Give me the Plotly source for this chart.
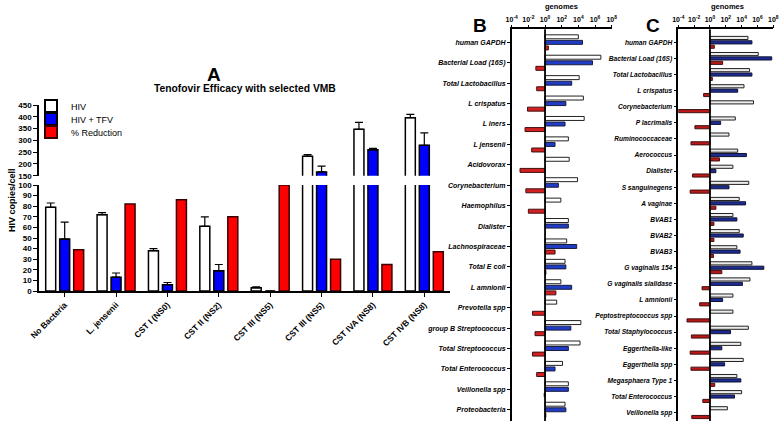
import plotly.graph_objects as go

W, H = 782, 424
FONT = "Arial, Liberation Sans, sans-serif"

# ---------------- Panel A data ----------------
categories_A = ["No Bacteria", "L. jensenii", "CST I (NS0)", "CST II (NS2)",
                "CST III (NS5)", "CST III (NS5)", "CST IVA (NS8)", "CST IVB (NS8)"]
hiv = [79, 72, 38, 61, 3, 233, 347, 396]
hiv_err = [4, 2, 2, 9, 1, 7, 29, 14]
hiv_tfv = [49, 13, 6, 19, 0, 166, 260, 279]
hiv_tfv_err = [16, 4, 2, 6, 0, 25, 6, 53]
reduction = [39, 82, 86, 70, 100, 30, 25, 37]
lower_ticks = list(range(0, 101, 10))
upper_ticks = list(range(150, 451, 50))

# ---------------- Panel B data (log10 genomes) ----------------
categories_B = ["human GAPDH", "Bacterial Load (16S)", "Total Lactobacillus", "L crispatus",
                "L iners", "L jensenii", "Acidovorax", "Corynebacterium", "Haemophilus",
                "Dialister", "Lachnospiraceae", "Total E coli", "L amnionii", "Prevotella spp",
                "group B Streptococcus", "Total Streptococcus", "Total Enterococcus",
                "Veillonella spp", "Proteobacteria"]
B_white = [4.0, 6.7, 4.1, 4.6, 4.7, 2.8, 2.9, 3.9, 1.9, 2.8, 2.6, 2.4, 1.9, 1.4, 4.3, 4.2, 2.1, 2.8, 2.4]
B_blue = [4.5, 5.7, 3.2, 2.5, 2.4, 1.2, None, 1.6, None, 2.8, 3.8, 2.5, 3.2, None, 3.1, 2.8, 1.2, 2.8, 2.5]
B_red = [0.4, -1.1, -1.0, -2.1, -2.4, -1.6, -3.0, -2.3, -2.0, None, 1.2, 0.1, 1.3, -1.5, -1.2, -1.5, -1.0, -0.1, 0.1]

# ---------------- Panel C data (log10 genomes) ----------------
categories_C = ["human GAPDH", "Bacterial Load (16S)", "Total Lactobacillus", "L crispatus",
                "Corynebacterium", "P lacrimalis", "Ruminococcaceae", "Aerococcus", "Dialister",
                "S sanguinegens", "A vaginae", "BVAB1", "BVAB2", "BVAB3", "G vaginalis 154",
                "G vaginalis sialidase", "L amnionii", "Peptostreptococcus spp",
                "Total Staphylococcus", "Eggerthella-like", "Eggerthella spp",
                "Megasphaera Type 1", "Total Enterococcus", "Veillonella spp"]
C_white = [4.8, 6.1, 5.0, 4.3, 5.5, 3.2, 2.4, 3.5, 2.9, 4.9, 3.7, 2.9, 3.7, 3.4, 5.3, 5.05,
           2.9, 2.9, 4.85, 3.9, 4.2, 3.4, 4.0, 2.2]
C_blue = [5.3, 7.8, 5.3, 3.5, None, 1.35, None, 4.6, 0.75, 2.4, 4.5, 3.4, 4.2, 3.8, 6.8, 4.1,
          1.6, None, 2.6, 1.5, 1.85, 3.9, 3.1, None]
C_red = [0.55, 1.6, 0.3, -0.8, -4.0, -1.9, -2.4, 1.2, -2.2, -2.5, 0.75, 0.5, 0.5, 0.45, 1.5, -1.0,
         -1.3, -2.9, -2.35, -2.5, -2.4, 0.6, -0.9, -2.3]

log_tickvals = [1e-4, 1e-2, 1, 1e2, 1e4, 1e6, 1e8]
log_ticktext = ["10<sup>-4</sup>", "10<sup>-2</sup>", "10<sup>0</sup>", "10<sup>2</sup>",
                "10<sup>4</sup>", "10<sup>6</sup>", "10<sup>8</sup>"]


def px_x(p):
    return p / W


def px_y(p):
    return 1 - p / H


fig = go.Figure()

# ---------- Panel A bars ----------
xs = list(range(len(categories_A)))
zeros = [0] * len(xs)
for ax, ay, show in [("x", "y", True), ("x2", "y2", False)]:
    fig.add_trace(go.Bar(x=xs, y=hiv, name="HIV", xaxis=ax, yaxis=ay, showlegend=show,
                         legend="legend",
                         marker=dict(color="white", line=dict(color="black", width=1.5)),
                         error_y=dict(type="data", symmetric=False, array=hiv_err, arrayminus=zeros,
                                      color="black", thickness=1.2, width=4)))
    fig.add_trace(go.Bar(x=xs, y=hiv_tfv, name="HIV + TFV", xaxis=ax, yaxis=ay, showlegend=show,
                         legend="legend2",
                         marker=dict(color="#0000ff", line=dict(color="black", width=1.5)),
                         error_y=dict(type="data", symmetric=False, array=hiv_tfv_err, arrayminus=zeros,
                                      color="black", thickness=1.2, width=4)))
    fig.add_trace(go.Bar(x=xs, y=reduction, name="% Reduction", xaxis=ax, yaxis=ay, showlegend=show,
                         legend="legend3",
                         marker=dict(color="#ff0000", line=dict(color="#3a0000", width=1.5))))


def hbars(cats, vals, color, line_color, ax, ay):
    ys = list(range(len(cats)))
    sizes = [None if v is None else 10 ** v - 1 for v in vals]
    fig.add_trace(go.Bar(y=ys, x=sizes, base=1, orientation="h", xaxis=ax, yaxis=ay,
                         showlegend=False,
                         marker=dict(color=color, line=dict(color=line_color, width=1))))


hbars(categories_B, B_white, "white", "#222222", "x3", "y3")
hbars(categories_B, B_blue, "#1f3cc4", "#1a1a40", "x3", "y3")
hbars(categories_B, B_red, "#d42020", "#401010", "x3", "y3")
hbars(categories_C, C_white, "#ececec", "#222222", "x4", "y4")
hbars(categories_C, C_blue, "#1c2c96", "#101030", "x4", "y4")
hbars(categories_C, C_red, "#b81818", "#401010", "x4", "y4")

axis_common = dict(showgrid=False, zeroline=False, showline=True, linecolor="black", linewidth=1.5,
                   ticks="outside", tickcolor="black", tickwidth=1.2, automargin=False)

tickfont_A = dict(family=FONT, size=8, color="black", weight="bold")
cat_font_B = dict(family=FONT, size=7, color="black", weight="bold", style="italic")
cat_font_C = dict(family=FONT, size=6.6, color="black", weight="bold", style="italic")

xA_dom = [px_x(39), px_x(450)]
B_dom_x = [px_x(511.7), px_x(611.7)]
C_dom_x = [px_x(678.3), px_x(773.3)]
BC_dom_y = [px_y(421), px_y(29.3)]

legend_common = dict(x=px_x(31), xanchor="left", yanchor="middle",
                     font=dict(family=FONT, size=9, color="black"), bgcolor="rgba(0,0,0,0)",
                     itemsizing="constant", itemwidth=30)

fig.update_layout(
    width=W, height=H, margin=dict(l=0, r=0, t=0, b=0, autoexpand=False),
    paper_bgcolor="white", plot_bgcolor="rgba(0,0,0,0)",
    barmode="group", bargap=0.183, bargroupgap=0.286,
    font=dict(family=FONT, color="black"),
    xaxis=dict(axis_common, domain=xA_dom, anchor="y", range=[-0.5, 7.5],
               tickvals=xs, ticktext=categories_A, tickangle=-45, ticklen=4,
               tickfont=dict(family=FONT, size=8.5, color="black", weight="bold")),
    yaxis=dict(axis_common, domain=[px_y(291), px_y(185)], anchor="x", range=[0, 100],
               tickvals=lower_ticks, ticklen=4, tickfont=tickfont_A),
    xaxis2=dict(domain=xA_dom, anchor="y2", range=[-0.5, 7.5], visible=False, matches="x",
                automargin=False),
    yaxis2=dict(axis_common, domain=[px_y(175.7), px_y(105)], anchor="x2", range=[150, 450],
                tickvals=upper_ticks, ticklen=4, tickfont=tickfont_A),
    xaxis3=dict(axis_common, domain=B_dom_x, anchor="y3", type="log", range=[-4, 8], side="top",
                tickvals=log_tickvals, ticktext=log_ticktext, ticklen=3,
                tickfont=dict(family=FONT, size=7, color="black", weight="bold")),
    yaxis3=dict(axis_common, domain=BC_dom_y, anchor="x3", range=[18.55, -0.64],
                tickvals=list(range(len(categories_B))), ticktext=categories_B, ticklen=3,
                tickfont=cat_font_B),
    xaxis4=dict(axis_common, domain=C_dom_x, anchor="y4", type="log", range=[-4, 8], side="top",
                tickvals=log_tickvals, ticktext=log_ticktext, ticklen=3,
                tickfont=dict(family=FONT, size=7, color="black", weight="bold")),
    yaxis4=dict(axis_common, domain=BC_dom_y, anchor="x4", range=[23.52, -0.81],
                tickvals=list(range(len(categories_C))), ticktext=categories_C, ticklen=3,
                tickfont=cat_font_C),
    legend=dict(legend_common, y=px_y(106)),
    legend2=dict(legend_common, y=px_y(119)),
    legend3=dict(legend_common, y=px_y(132)),
    showlegend=True,
)

# vertical baseline at 10^0 in panels B and C
for xr, yr in [("x3", "y3 domain"), ("x4", "y4 domain")]:
    fig.add_shape(type="line", xref=xr, yref=yr, x0=1, x1=1, y0=0, y1=1,
                  line=dict(color="black", width=1.8))

annots = [
    dict(text="<b>A</b>", x=px_x(214), y=px_y(75), size=19),
    dict(text="<b>Tenofovir Efficacy with selected VMB</b>", x=px_x(245), y=px_y(89), size=10.3),
    dict(text="<b>B</b>", x=px_x(480), y=px_y(25), size=19),
    dict(text="<b>C</b>", x=px_x(653), y=px_y(25), size=19),
    dict(text="<b>genomes</b>", x=px_x(561), y=px_y(7), size=7.5),
    dict(text="<b>genomes</b>", x=px_x(727), y=px_y(7), size=7.5),
]
for a in annots:
    fig.add_annotation(text=a["text"], x=a["x"], y=a["y"], xref="paper", yref="paper",
                       showarrow=False, xanchor="center", yanchor="middle",
                       font=dict(family=FONT, size=a["size"], color="black"))
fig.add_annotation(text="<b>HIV copies/cell</b>", x=px_x(12), y=px_y(200), xref="paper", yref="paper",
                   showarrow=False, textangle=-90, xanchor="center", yanchor="middle",
                   font=dict(family=FONT, size=9, color="black"))

fig.write_html("out.html", config={"displayModeBar": False},
               post_script="document.body.style.margin='0';document.body.style.overflow='hidden';")
